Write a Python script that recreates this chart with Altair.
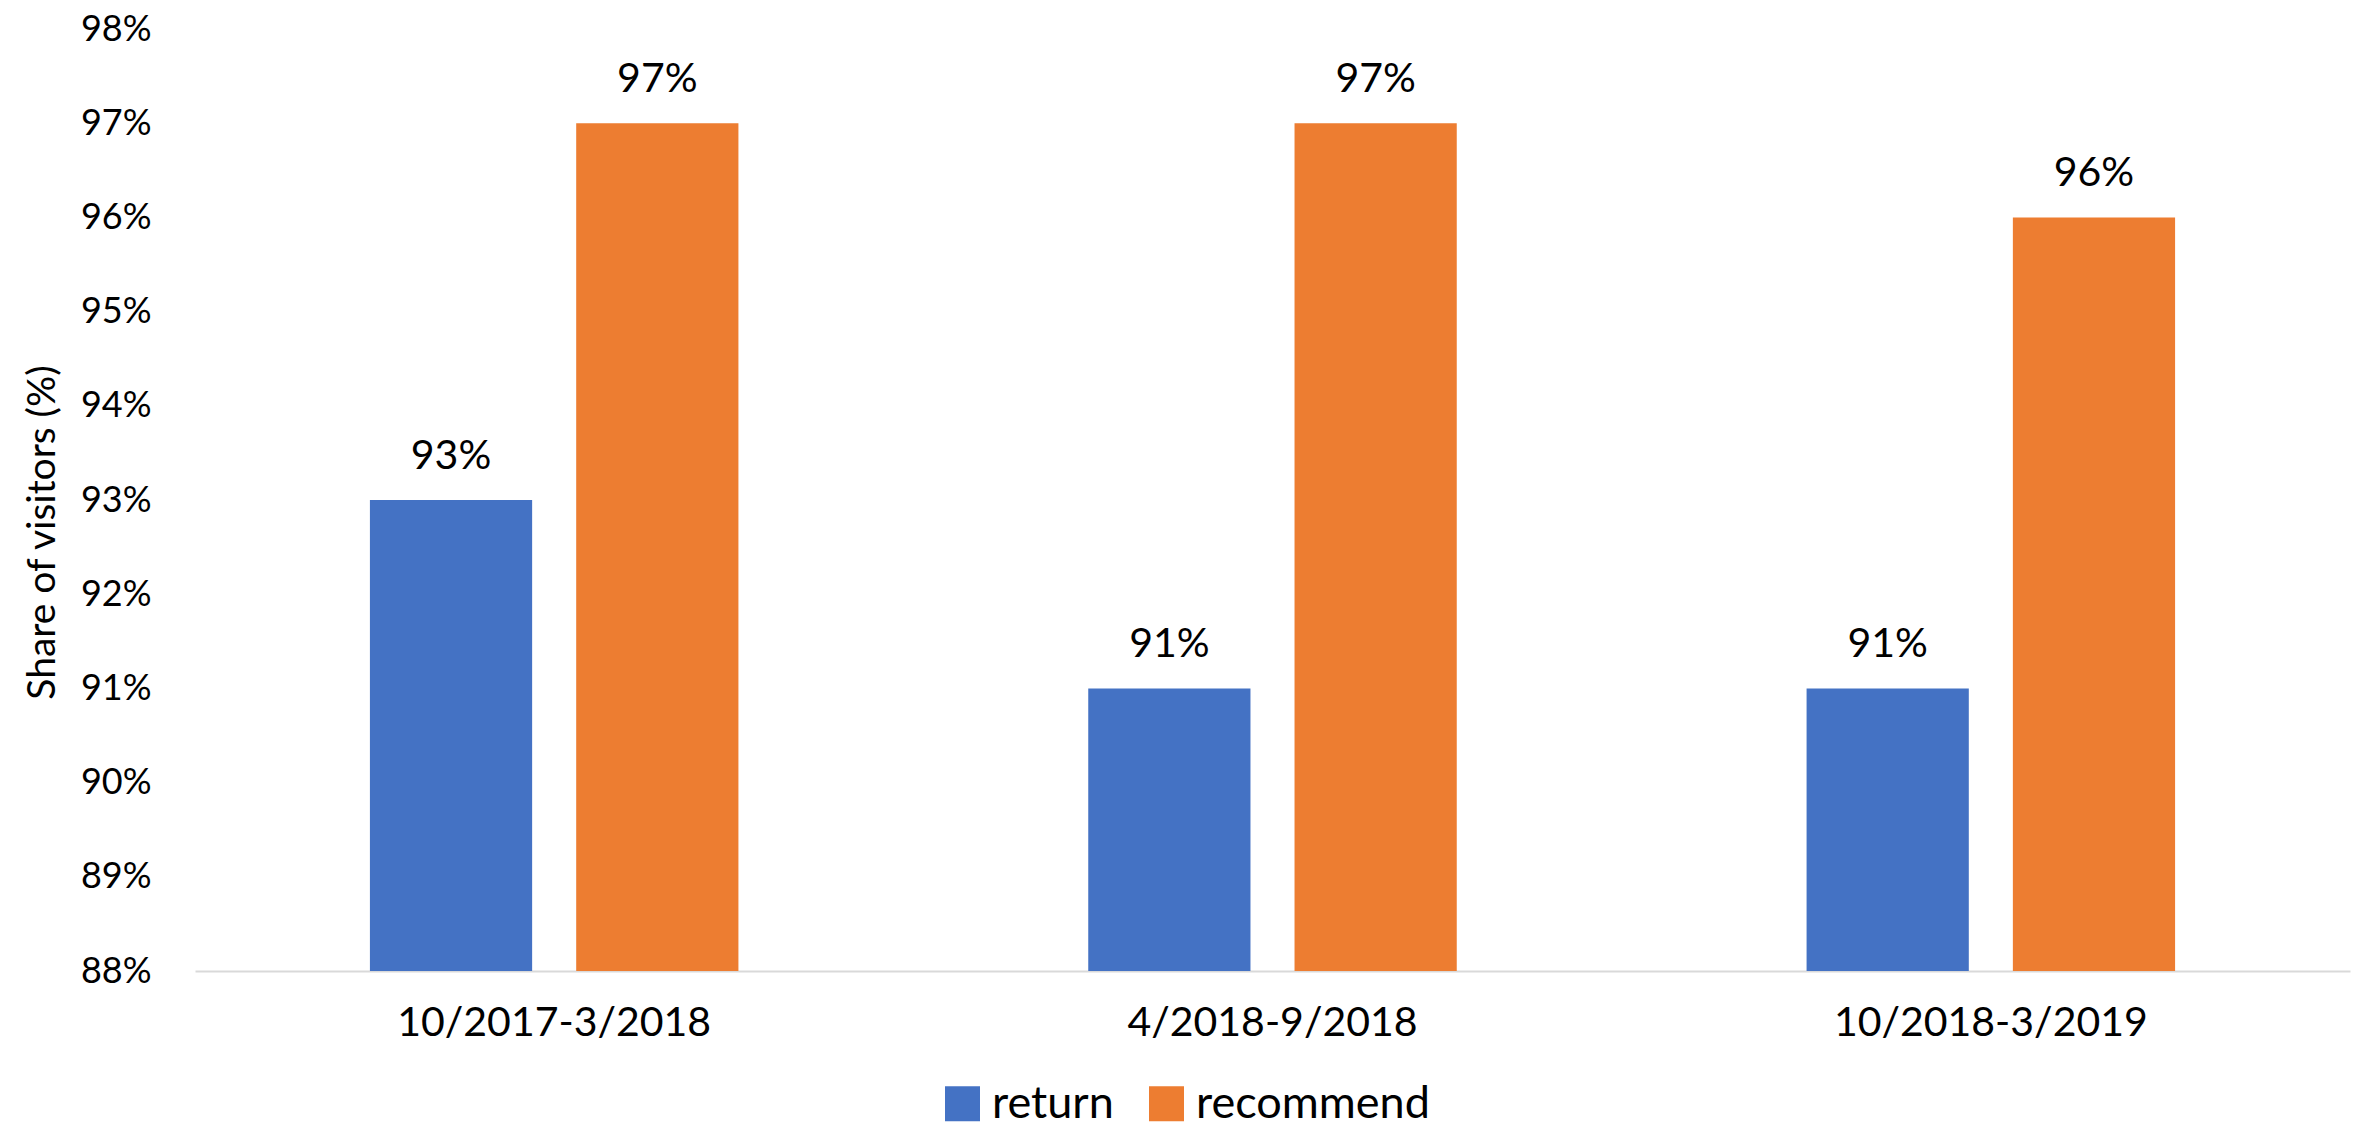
import altair as alt
import pandas as pd

periods = ["10/2017-3/2018", "4/2018-9/2018", "10/2018-3/2019"]
series = ["return", "recommend"]
return_vals = [0.93, 0.91, 0.91]
recommend_vals = [0.97, 0.97, 0.96]
y_ticks = [0.88, 0.89, 0.90, 0.91, 0.92, 0.93, 0.94, 0.95, 0.96, 0.97, 0.98]
colors = ["#4472C4", "#ED7D31"]

rows = []
for p, r, c in zip(periods, return_vals, recommend_vals):
    rows.append({"period": p, "series": "return", "value": r})
    rows.append({"period": p, "series": "recommend", "value": c})
df = pd.DataFrame(rows)

FONT = "Lato"

x = alt.X("period:N", sort=periods, title=None,
          scale=alt.Scale(paddingInner=0.487, paddingOuter=0.2435),
          axis=alt.Axis(labelAngle=0, labelFontSize=41, labelFont=FONT, labelColor="#000000",
                        labelLimit=800, ticks=False, domainColor="#D9D9D9", domainWidth=2,
                        labelPadding=32))
xo = alt.XOffset("series:N", sort=series, scale=alt.Scale(paddingInner=0.2136, paddingOuter=0))
y = alt.Y("value:Q", title="Share of visitors (%)",
          scale=alt.Scale(domain=[0.88, 0.98], zero=False, nice=False),
          axis=alt.Axis(values=y_ticks, format=".0%", grid=False, domain=False, ticks=False,
                        labelFontSize=36, labelFont=FONT, labelColor="#000000", labelPadding=44,
                        titleFontSize=39, titleFont=FONT, titleFontWeight="normal",
                        titleColor="#000000", titlePadding=18, titleY=503))

color = alt.Color("series:N", sort=series,
                  scale=alt.Scale(domain=series, range=colors),
                  legend=alt.Legend(title=None, orient="none", direction="horizontal",
                                    legendX=745, legendY=1052,
                                    symbolType="square", symbolSize=1225, symbolStrokeWidth=0,
                                    labelFontSize=45, labelFont=FONT, labelColor="#000000",
                                    labelLimit=800, labelOffset=7, columnPadding=30))

bars = alt.Chart(df).mark_bar(clip=True).encode(x=x, xOffset=xo, y=y, color=color)
labels = alt.Chart(df).mark_text(baseline="bottom", dy=-22, fontSize=41, font=FONT,
                                 color="#000000").encode(
    x=x, xOffset=xo, y=y, text=alt.Text("value:Q", format=".0%"))

chart = alt.layer(bars, labels).properties(
    width=2155, height=942,
    autosize=alt.AutoSizeParams(type="none"),
    padding={"left": 187, "top": 21, "right": 10, "bottom": 156},
).configure_view(stroke=None)

chart.save("out.html", embed_options={"renderer": "svg", "actions": False})
